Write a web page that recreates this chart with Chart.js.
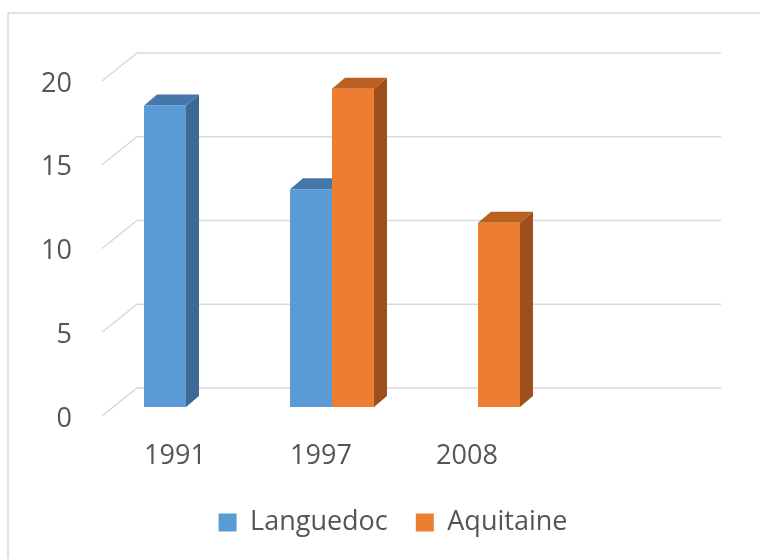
<!DOCTYPE html>
<html>
<head>
<meta charset="utf-8">
<script src="https://cdn.jsdelivr.net/npm/chart.js@4.4.1/dist/chart.umd.min.js"></script>
<style>
  html, body { margin: 0; padding: 0; background: #fff; }
  #wrap { width: 760px; height: 559px; }
</style>
</head>
<body>
<div id="wrap"><canvas id="chart" width="760" height="559"></canvas></div>
<script>
const years = ['1991', '1997', '2008', ''];
const languedoc = [18, 13, null, null];
const aquitaine = [null, 19, 11, null];
const seriesNames = ['Languedoc', 'Aquitaine'];

const frontColors = ['#5B9BD5', '#ED7D31'];
const sideColors = ['#3C6A94', '#9E4F1C'];
const topColors = ['#4677AA', '#BA6021'];

// fake perspective: floor front edge, back wall, bar depth (offsets from the bar front plane)
const FLOOR = { dx: -11, dy: 9 };
const WALL = { dx: 24, dy: -19 };
const DEPTH = { dx: 13, dy: -11 };

const textFont = { family: "'Open Sans', sans-serif", size: 27 };
const textColor = '#555555';

function poly(ctx, pts) {
    ctx.beginPath();
    ctx.moveTo(pts[0][0], pts[0][1]);
    for (let k = 1; k < pts.length; k++) ctx.lineTo(pts[k][0], pts[k][1]);
    ctx.closePath();
    ctx.fill();
}

const box3d = {
    id: 'box3d',
    beforeDraw(chart) {
        const ctx = chart.ctx;
        ctx.save();
        ctx.strokeStyle = '#D9D9D9';
        ctx.lineWidth = 1.5;
        ctx.strokeRect(8, 13, 800, 600);
        ctx.restore();
    },
    beforeDatasetsDraw(chart) {
        const { ctx, chartArea: a, scales: { y } } = chart;
        ctx.save();

        // back wall grid + the slanted side lines
        ctx.strokeStyle = '#D9D9D9';
        ctx.lineWidth = 1.5;
        y.ticks.forEach(t => {
            const py = y.getPixelForValue(t.value);
            ctx.beginPath();
            ctx.moveTo(a.left + FLOOR.dx, py + FLOOR.dy);
            ctx.lineTo(a.left + WALL.dx, py + WALL.dy);
            ctx.lineTo(a.right + WALL.dx, py + WALL.dy);
            ctx.stroke();
        });

        // side and top faces, fronts are drawn afterwards by chart.js
        chart.data.datasets.forEach((ds, i) => {
            const meta = chart.getDatasetMeta(i);
            meta.data.forEach((bar, j) => {
                if (ds.data[j] == null) return;
                const { x, y: top, base, width } = bar.getProps(['x', 'y', 'base', 'width'], true);
                const l = x - width / 2, r = x + width / 2;
                ctx.fillStyle = sideColors[i];
                poly(ctx, [[r, top], [r + DEPTH.dx, top + DEPTH.dy], [r + DEPTH.dx, base + DEPTH.dy], [r, base]]);
                ctx.fillStyle = topColors[i];
                poly(ctx, [[l, top], [l + DEPTH.dx, top + DEPTH.dy], [r + DEPTH.dx, top + DEPTH.dy], [r, top]]);
            });
        });
        ctx.restore();
    }
};

new Chart(document.getElementById('chart'), {
    type: 'bar',
    data: {
        labels: years,
        datasets: [
            { label: seriesNames[0], data: languedoc, backgroundColor: frontColors[0], borderWidth: 0 },
            { label: seriesNames[1], data: aquitaine, backgroundColor: frontColors[1], borderWidth: 0 }
        ]
    },
    options: {
        responsive: false,
        animation: false,
        categoryPercentage: 0.575,
        barPercentage: 1.0,
        layout: { padding: { left: 26, right: 0, top: 72, bottom: 13 } },
        scales: {
            x: {
                grid: { display: false, drawTicks: false },
                border: { display: false },
                ticks: { color: textColor, font: textFont, padding: 33, labelOffset: FLOOR.dx, maxRotation: 0, autoSkip: false },
                afterFit(s) { s.height = 74; }
            },
            y: {
                min: 0,
                max: 20,
                grid: { display: false, drawTicks: false },
                border: { display: false },
                ticks: { stepSize: 5, color: textColor, font: textFont, padding: 41, labelOffset: 12 },
                afterFit(s) { s.width = 87; }
            },
            yRight: {
                position: 'right',
                grid: { display: false, drawTicks: false },
                border: { display: false },
                ticks: { display: false },
                afterFit(s) { s.width = 63; }
            }
        },
        plugins: {
            legend: {
                position: 'bottom',
                labels: { boxWidth: 18, boxHeight: 18, padding: 28, color: textColor, font: textFont }
            },
            tooltip: { enabled: false }
        }
    },
    plugins: [box3d]
});
</script>
</body>
</html>
